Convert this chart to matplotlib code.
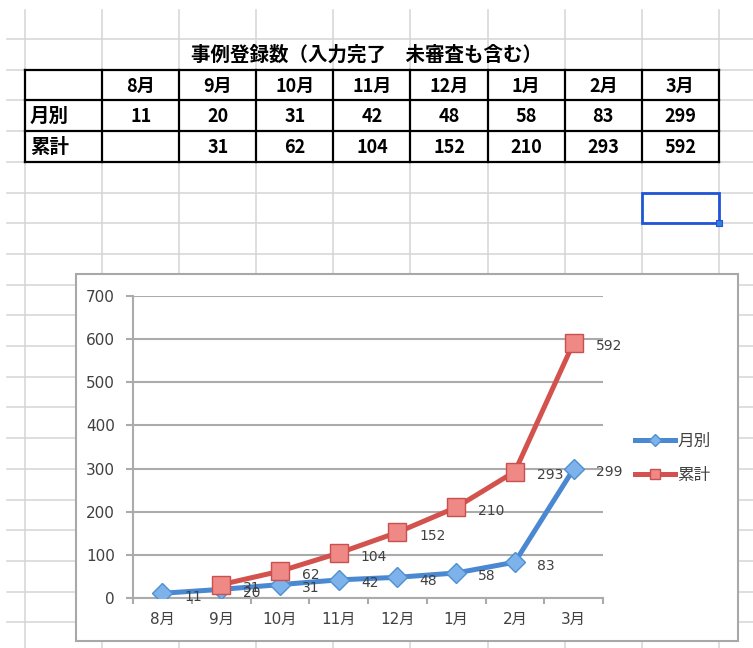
import matplotlib.pyplot as plt
import numpy as np
from matplotlib.patches import Rectangle

# data
months = ['8月', '9月', '10月', '11月', '12月', '1月', '2月', '3月']
monthly = [11, 20, 31, 42, 48, 58, 83, 299]
cumulative = [None, 31, 62, 104, 152, 210, 293, 592]
row_labels = ['月別', '累計']
series_names = ['月別', '累計']
table_title = '事例登録数（入力完了\u3000未審査も含む）'
yticks = [0, 100, 200, 300, 400, 500, 600, 700]

W, H = 753, 648
fig = plt.figure(figsize=(W / 100, H / 100), dpi=100)

# spreadsheet background, pixel coords
bg = fig.add_axes([0, 0, 1, 1])
bg.set_xlim(0, W)
bg.set_ylim(H, 0)
bg.axis('off')

col_x = 25 + 77.1 * np.arange(10)
row_y = 39 + 30.7 * np.arange(20)
for x in col_x:
    bg.plot([x, x], [10, H], color='#d4d4d4', lw=1.1, zorder=1)
for y in row_y:
    bg.plot([7, W], [y, y], color='#d4d4d4', lw=1.1, zorder=1)

# table
tfont = ['Noto Sans CJK JP', 'DejaVu Sans']
bg.text(367, (row_y[0] + row_y[1]) / 2 + 1, table_title,
        ha='center', va='center', fontsize=14, fontweight='bold', family=tfont)
ty = row_y[1:5]
for y in ty:
    bg.plot([col_x[0], col_x[9]], [y, y], color='black', lw=1.6, zorder=3)
for x in col_x:
    bg.plot([x, x], [ty[0], ty[-1]], color='black', lw=1.6, zorder=3)
cx = (col_x[1:-1] + col_x[2:]) / 2
cy = (ty[:-1] + ty[1:]) / 2 + 1
for i, m in enumerate(months):
    bg.text(cx[i], cy[0], m, ha='center', va='center', fontsize=13,
            fontweight='bold', family=tfont)
    bg.text(cx[i], cy[1], str(monthly[i]), ha='center', va='center',
            fontsize=13, fontweight='bold', family=tfont)
    if cumulative[i] is not None:
        bg.text(cx[i], cy[2], str(cumulative[i]), ha='center', va='center',
                fontsize=13, fontweight='bold', family=tfont)
for j, lab in enumerate(row_labels):
    bg.text(col_x[0] + 5, cy[j + 1], lab, ha='left', va='center', fontsize=14,
            fontweight='bold', family=tfont)

# selected cell
bg.add_patch(Rectangle((col_x[8], row_y[5]), col_x[9] - col_x[8], row_y[6] - row_y[5],
                       fill=False, ec='#1f55d6', lw=2, zorder=4))
bg.add_patch(Rectangle((col_x[9] - 3, row_y[6] - 3), 6, 6, fc='#3b7be0', ec='#1f55d6',
                       lw=0.8, zorder=5))

# chart area
bg.add_patch(Rectangle((76, 274), 662, 367, fc='white', ec='#a8a8a8', lw=1.5, zorder=6))

# plot
cfont = ['DejaVu Sans', 'Noto Sans CJK JP']
tc = '#404040'
gc = '#ababab'
ax = fig.add_axes([133 / W, 1 - 598 / H, (603 - 133) / W, (598 - 296) / H])
ax.set_facecolor('none')
x = np.arange(len(months))
m_arr = np.array(monthly, dtype=float)
c_arr = np.array([np.nan if v is None else v for v in cumulative], dtype=float)

ax.plot(x, m_arr, color='#4a89d2', lw=3.6, marker='D', ms=10.5, mfc='#7db3ea',
        mec='#4f8fd2', mew=1, label=series_names[0], zorder=4)
ax.plot(x, c_arr, color='#d3524e', lw=3.6, marker='s', ms=12.5, mfc='#ef8985',
        mec='#c9504d', mew=1, label=series_names[1], zorder=5)

for xi, v in zip(x, monthly):
    ax.annotate(str(v), (xi, v), xytext=(16, -2.5), textcoords='offset points',
                ha='left', va='center', fontsize=10, color=tc, family=cfont, zorder=6)
for xi, v in zip(x, cumulative):
    if v is None:
        continue
    ax.annotate(str(v), (xi, v), xytext=(16, -2.5), textcoords='offset points',
                ha='left', va='center', fontsize=10, color=tc, family=cfont, zorder=6)

ax.set_xlim(-0.5, 7.5)
ax.set_ylim(0, 700)
ax.set_yticks(yticks)
ax.set_xticks(x)
ax.set_xticklabels(months, family=cfont)
ax.set_xticks(np.arange(-0.5, 8, 1), minor=True)
ax.tick_params(axis='x', which='major', length=0, pad=10, labelsize=11, labelcolor=tc)
ax.tick_params(axis='x', which='minor', length=4, width=1.5, color=gc, direction='out')
ax.tick_params(axis='y', length=5, width=1.5, color=gc, pad=8, labelsize=11, labelcolor=tc)
for lab in ax.get_yticklabels():
    lab.set_family(cfont)
ax.grid(axis='y', color=gc, lw=1.5)
ax.set_axisbelow(True)
for s in ['top', 'right']:
    ax.spines[s].set_visible(False)
for s in ['left', 'bottom']:
    ax.spines[s].set_color(gc)
    ax.spines[s].set_linewidth(1.5)

leg = ax.legend(loc='center left', bbox_to_anchor=(635 / W, 1 - 458.5 / H),
                bbox_transform=fig.transFigure, frameon=False, borderpad=0,
                borderaxespad=0, handlelength=2.4, handletextpad=0.15,
                labelspacing=1.0, markerscale=0.6,
                prop={'family': ['Noto Sans CJK JP', 'DejaVu Sans'], 'size': 12})
for t in leg.get_texts():
    t.set_color(tc)

fig.savefig('out.png', dpi=100)
